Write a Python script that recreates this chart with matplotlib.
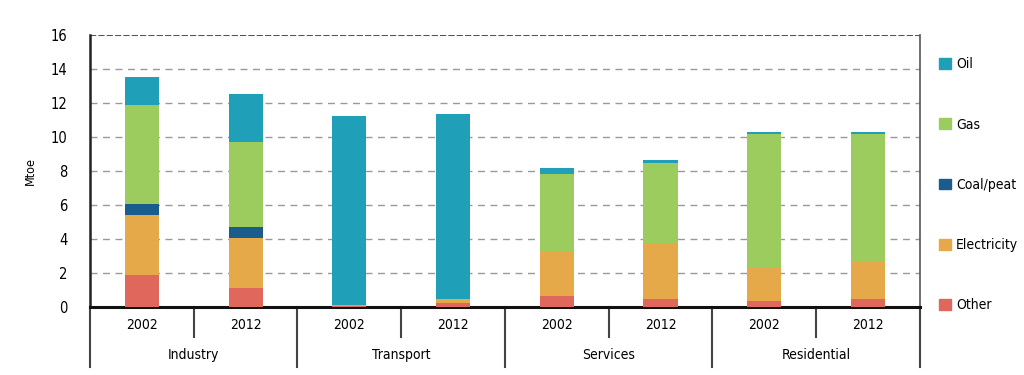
import matplotlib
matplotlib.use("Agg")
import matplotlib.pyplot as plt
import matplotlib.transforms as mtransforms
from matplotlib.patches import Patch
import numpy as np

plt.rcParams['font.family'] = ['DejaVu Sans']
plt.rcParams['font.stretch'] = 'condensed'

sectors = ["Industry", "Transport", "Services", "Residential"]
years = ["2002", "2012"]
other =       [1.9, 1.1, 0.05, 0.25, 0.65, 0.5, 0.35, 0.5]
electricity = [3.5, 2.95, 0.05, 0.22, 2.6, 3.25, 2.0, 2.2]
coal_peat =   [0.65, 0.65, 0.0, 0.0, 0.0, 0.0, 0.0, 0.0]
gas =         [5.85, 5.0, 0.0, 0.0, 4.6, 4.7, 7.85, 7.45]
oil =         [1.6, 2.8, 11.15, 10.88, 0.3, 0.2, 0.1, 0.15]

series = [("Other", other, "#e0675c"),
          ("Electricity", electricity, "#e6a94a"),
          ("Coal/peat", coal_peat, "#1a5c8c"),
          ("Gas", gas, "#9ccc5e"),
          ("Oil", oil, "#1fa0b8")]

fig = plt.figure(figsize=(10.24, 3.75), dpi=100)
ax = fig.add_axes([0.0879, 0.181, 0.8105, 0.726])

n = len(other)
x = np.arange(n)
bottom = np.zeros(n)
for name, vals, col in series:
    ax.bar(x, vals, width=0.33, bottom=bottom, color=col, zorder=3)
    bottom += np.array(vals)

ax.set_xlim(-0.5, n - 0.5)
ax.set_ylim(0, 16)
ax.set_yticks(range(0, 17, 2))
ax.tick_params(axis='y', length=0, labelsize=10.5, pad=16)
ax.set_xticks([])
for yv in range(2, 17, 2):
    ax.axhline(yv, color="#999999" if yv < 16 else "#555555", lw=1.0 if yv < 16 else 1.5,
               ls=(0, (5, 4)) if yv < 16 else (0, (3, 1)), zorder=1)
ax.spines['top'].set_visible(False)
ax.spines['left'].set_color('#222222')
ax.spines['left'].set_linewidth(1.8)
ax.spines['bottom'].set_color('#111111')
ax.spines['bottom'].set_linewidth(2.2)
ax.spines['right'].set_color('#555555')
ax.spines['right'].set_linewidth(1.2)
ax.set_ylabel("Mtoe", fontsize=9, labelpad=10)

trans = mtransforms.blended_transform_factory(ax.transData, ax.transAxes)
for i in range(n):
    ax.text(x[i], -0.065, years[i % 2], transform=trans, ha='center', va='center', fontsize=10)
for j, s in enumerate(sectors):
    ax.text(2 * j + 0.5, -0.175, s, transform=trans, ha='center', va='center', fontsize=10)
for b in np.arange(-0.5, n, 1.0):
    long = (int(b + 0.5) % 2 == 0)
    ax.plot([b, b], [0, -0.22 if long else -0.11], transform=trans, color='#444444',
            lw=1.5, clip_on=False)

handles = [Patch(color=col, label=name) for name, vals, col in series[::-1]]
fig.legend(handles=handles, loc='upper left', bbox_to_anchor=(0.912, 0.862),
           frameon=False, fontsize=10, handlelength=0.8, handleheight=0.8,
           handletextpad=0.4, labelspacing=3.33, borderaxespad=0)

fig.savefig("out.png", dpi=100)
